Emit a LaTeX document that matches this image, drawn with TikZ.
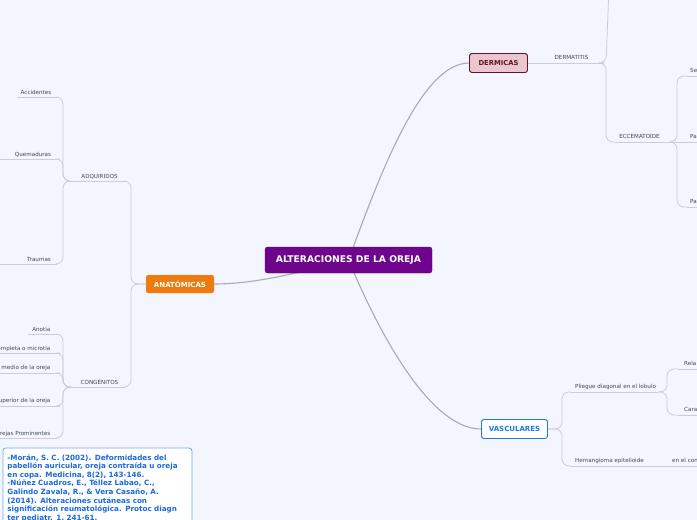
\documentclass[tikz,border=0pt]{standalone}
\usepackage{fontspec}
\setmainfont{DejaVu Sans}
\usetikzlibrary{positioning, backgrounds, calc}
\definecolor{bgmap}{RGB}{243,246,254}
\definecolor{rootcol}{RGB}{110,5,140}
\definecolor{anatcol}{RGB}{238,122,14}
\definecolor{dermfill}{RGB}{232,200,206}
\definecolor{dermline}{RGB}{105,15,40}
\definecolor{vasccol}{RGB}{30,120,230}
\definecolor{refline}{RGB}{110,165,240}
\definecolor{reftext}{RGB}{25,105,225}
\definecolor{linkcol}{RGB}{170,170,178}
\definecolor{branchcol}{RGB}{205,205,212}
\definecolor{lblcol}{RGB}{70,70,78}

\begin{document}
\begin{tikzpicture}[
    x=1pt, y=-1pt,
    root/.style={rectangle, draw=rootcol!80!black, fill=rootcol, rounded corners=2.5pt, minimum width=167pt, minimum height=26pt, inner sep=0pt, text=white, font=\fontsize{9.2}{10}\selectfont\bfseries},
    anat/.style={rectangle, draw=anatcol!60!white, fill=anatcol, rounded corners=2pt, minimum width=68pt, minimum height=18pt, inner sep=0pt, text=white, font=\fontsize{7}{8}\selectfont\bfseries},
    derm/.style={rectangle, draw=dermline, fill=dermfill, line width=0.9pt, rounded corners=2.5pt, minimum width=58pt, minimum height=19pt, inner sep=0pt, text=dermline, font=\fontsize{6.8}{8}\selectfont\bfseries},
    vasc/.style={rectangle, draw=vasccol, fill=white, line width=0.9pt, rounded corners=2.5pt, minimum width=66pt, minimum height=19pt, inner sep=0pt, text=vasccol, font=\fontsize{7}{8}\selectfont\bfseries},
    refbox/.style={rectangle, draw=refline, fill=white, line width=0.8pt, rounded corners=3pt, text width=180pt, align=left, inner xsep=4.5pt, inner ysep=6.5pt, text=reftext, font=\fontsize{7.2}{8.6}\selectfont\bfseries},
    lbl/.style={inner sep=0pt, anchor=base, text=lblcol, font=\fontsize{5.6}{6.7}\selectfont},
    lblL/.style={lbl, anchor=base west},
    lblR/.style={lbl, anchor=base east},
    link/.style={draw=linkcol, line width=1.1pt},
    branch/.style={draw=branchcol, line width=0.8pt, rounded corners=7pt}
]
    \useasboundingbox (0,0) rectangle (697,520);

    % main topics
    \node[root] (root) at (348.5,260) {ALTERACIONES DE LA OREJA};
    \node[anat] (anat) at (180,284) {ANATÓMICAS};
    \node[derm] (derm) at (498.5,63) {DERMICAS};
    \node[vasc] (vasc) at (514.5,429) {VASCULARES};

    % anatomicas
    \coordinate (adqL) at (67,181);  \coordinate (adqR) at (125,181);
    \coordinate (congL) at (67,387); \coordinate (congR) at (125,387);
    \node[lbl] (adq) at (99.5,178) {ADQUIRIDOS};
    \node[lbl] (cong) at (99.5,384) {CONGÉNITOS};

    \coordinate (accL) at (17,97);   \coordinate (accR) at (57,97);
    \coordinate (quemL) at (-5,159); \coordinate (quemR) at (60,159);
    \coordinate (trauL) at (-5,264); \coordinate (trauR) at (57,264);
    \node[lbl] (acc) at (36,94) {Accidentes};
    \node[lbl] (quem) at (33,156) {Quemaduras};
    \node[lbl] (trau) at (39,261) {Traumas};

    \coordinate (anotL) at (28,334); \coordinate (anotR) at (57,334);
    \coordinate (omplL) at (-5,353); \coordinate (omplR) at (60,353);
    \coordinate (mediL) at (-5,373); \coordinate (mediR) at (60,373);
    \coordinate (uperL) at (-5,406); \coordinate (uperR) at (60,406);
    \coordinate (rejaL) at (-5,438); \coordinate (rejaR) at (57,438);
    \node[lblR] (anot) at (50.5,331) {Anotia};
    \node[lblR] (ompl) at (50.5,350) {ompleta o microtia};
    \node[lblR] (medi) at (50.5,369) {medio de la oreja};
    \node[lblR] (uper) at (50.5,402.5) {uperior de la oreja};
    \node[lblR] (reja) at (50.5,435) {rejas Prominentes};

    % dermicas
    \coordinate (dermJ) at (604,63);
    \coordinate (dermUp) at (609,-12);
    \coordinate (ecceL) at (615,142); \coordinate (ecceR) at (673,142);
    \node[lbl] (dermat) at (571.5,59.5) {DERMATITIS};
    \node[lbl] (ecce) at (639.5,138.5) {ECCEMATOIDE};

    \coordinate (seL) at (687,76);   \coordinate (seR) at (705,76);
    \coordinate (paAR) at (705,142);
    \coordinate (paBL) at (687,207); \coordinate (paBR) at (705,207);
    \node[lblL] (se) at (690,72.5) {Se};
    \node[lblL] (paA) at (690,138.5) {Pa};
    \node[lblL] (paB) at (690,203.5) {Pa};

    % vasculares
    \coordinate (plieL) at (570,392); \coordinate (plieR) at (658,392);
    \coordinate (hemaL) at (570,466); \coordinate (hemaR) at (705,466);
    \node[lblL] (plie) at (575,388.5) {Pliegue diagonal en el lobulo};
    \node[lblL] (hema) at (575,462) {Hemangioma epitelioide};
    \node[lblL] (enel) at (672,462) {en el con};

    \coordinate (relaL) at (678,369); \coordinate (relaR) at (705,369);
    \coordinate (caraL) at (678,415); \coordinate (caraR) at (705,415);
    \node[lblL] (rela) at (684,365.5) {Rela};
    \node[lblL] (cara) at (684,411.5) {Cara};

    % references
    \node[refbox, anchor=north west] (refs) at (2.5,447.5) {%
        -Morán, S. C. (2002). Deformidades del\\
        pabellón auricular, oreja contraída u oreja\\
        en copa. Medicina, 8(2), 143-146.\\
        -Núñez Cuadros, E., Téllez Labao, C.,\\
        Galindo Zavala, R., \& Vera Casaño, A.\\
        (2014). Alteraciones cutáneas con\\
        significación reumatológica. Protoc diagn\\
        ter pediatr. 1, 241-61.};

    \begin{scope}[on background layer]
        \fill[bgmap] (0,0) rectangle (697,520);

        % root links
        \draw[link] (anat.east) .. controls +(45,0) and +(-40,10) .. (root.center);
        \draw[link] (root.center) .. controls (378,180) and (420,63) .. (derm.west);
        \draw[link] (root.center) .. controls (382,340) and (432,429) .. (vasc.west);

        % anatomicas branches
        \draw[branch] (anat.west) -- (131,284) |- (adqR);
        \draw[branch] (anat.west) -- (131,284) |- (congR);
        \draw[branch] (adqL) -- (adqR);
        \draw[branch] (congL) -- (congR);
        \foreach \c in {acc, quem, trau} {
            \draw[branch] (\c L) -- (\c R);
            \draw[branch] (adqL) -- (63,181) |- (\c R);
        }
        \foreach \c in {anot, ompl, medi, uper, reja} {
            \draw[branch] (\c L) -- (\c R);
            \draw[branch] (congL) -- (63,387) |- (\c R);
        }

        % dermicas branches
        \draw[branch] (derm.east) -- (dermJ);
        \draw[branch] (dermJ) -- (606,63) -- (dermUp);
        \draw[branch] (dermJ) -- (606,63) |- (ecceL);
        \draw[branch] (ecceL) -- (ecceR);
        \draw[branch] (ecceR) -- (paAR);
        \foreach \c in {se, paB} {
            \draw[branch] (\c L) -- (\c R);
            \draw[branch] (ecceR) -- (677,142) |- (\c L);
        }

        % vasculares branches
        \draw[branch] (vasc.east) -- (562,429) |- (plieL);
        \draw[branch] (vasc.east) -- (562,429) |- (hemaL);
        \draw[branch] (plieL) -- (plieR);
        \draw[branch] (hemaL) -- (hemaR);
        \foreach \c in {rela, cara} {
            \draw[branch] (\c L) -- (\c R);
            \draw[branch] (plieR) -- (667,392) |- (\c L);
        }
    \end{scope}
\end{tikzpicture}
\end{document}
